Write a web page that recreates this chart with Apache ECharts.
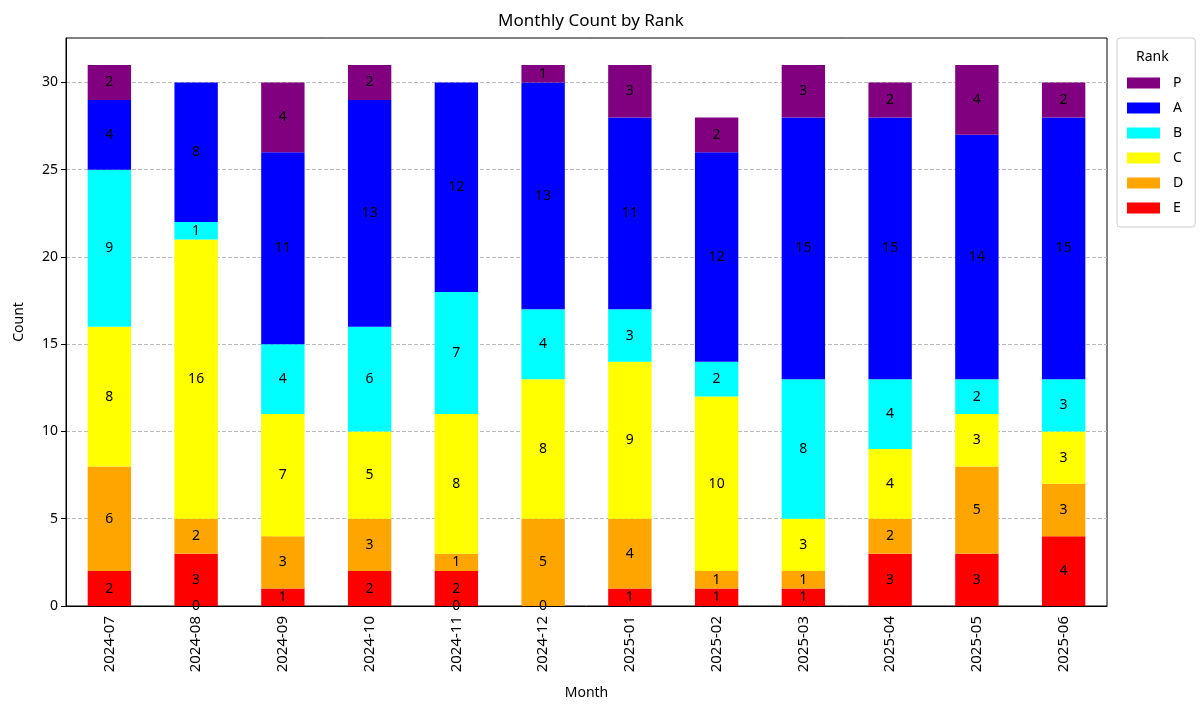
<!DOCTYPE html>
<html>
<head>
<meta charset="utf-8">
<script src="https://cdn.jsdelivr.net/npm/echarts@6/dist/echarts.min.js"></script>
<style>
	html,body{margin:0;padding:0;background:#fff;}
	#chart{width:1200px;height:715px;}
</style>
</head>
<body>
<div id="chart"></div>
<script>
var months = ['2024-07','2024-08','2024-09','2024-10','2024-11','2024-12','2025-01','2025-02','2025-03','2025-04','2025-05','2025-06'];
var rankE = [2,3,1,2,2,0,1,1,1,3,3,4];
var rankD = [6,2,3,3,1,5,4,1,1,2,5,3];
var rankC = [8,16,7,5,8,8,9,10,3,4,3,3];
var rankB = [9,1,4,6,7,4,3,2,8,4,2,3];
var rankA = [4,8,11,13,12,13,11,12,15,15,14,15];
var rankP = [2,0,4,2,0,1,3,2,3,2,4,2];
// zero-count P labels sit on the baseline in the original
var zeroP = rankP.map(function(v){ return v === 0 ? 0 : null; });

var font = 'Noto Sans';

function bar(name, data, color, hideZero){
	return {
		name: name,
		type: 'bar',
		stack: 'rank',
		barWidth: '50%',
		data: data,
		itemStyle: {color: color},
		label: {
			show: true,
			position: 'inside',
			color: '#000',
			fontSize: 14,
			fontFamily: font,
			formatter: function(p){ return (hideZero && p.value === 0) ? '' : p.value; }
		}
	};
}

var chart = echarts.init(document.getElementById('chart'));

chart.setOption({
	animation: false,
	textStyle: {fontFamily: font},
	title: {
		text: 'Monthly Count by Rank',
		left: 586,
		textAlign: 'center',
		top: 8,
		textStyle: {fontSize: 17, fontWeight: 'normal', color: '#000', fontFamily: font}
	},
	graphic: [{
		type: 'text',
		left: 1136,
		top: 50,
		style: {text: 'Rank', fontSize: 14, fontFamily: font, fill: '#000'}
	}],
	legend: {
		orient: 'vertical',
		left: 1117,
		top: 38,
		padding: [38, 12, 12, 10],
		itemWidth: 33,
		itemHeight: 11,
		itemGap: 11,
		borderColor: '#ccc',
		borderWidth: 1,
		borderRadius: 3,
		icon: 'rect',
		data: ['P','A','B','C','D','E'],
		textStyle: {fontSize: 14, fontFamily: font, color: '#000', padding: [0, 0, 0, 8]}
	},
	grid: {
		left: 66,
		right: 93,
		top: 38,
		bottom: 109,
		show: true,
		borderColor: '#000',
		borderWidth: 1
	},
	xAxis: {
		type: 'category',
		data: months,
		name: 'Month',
		nameLocation: 'middle',
		nameGap: 80,
		nameTextStyle: {fontSize: 14, color: '#000', fontFamily: font},
		axisLine: {lineStyle: {color: '#000'}},
		axisTick: {alignWithLabel: true, length: 5, lineStyle: {color: '#000'}},
		axisLabel: {rotate: 90, fontSize: 15, color: '#000', fontFamily: font, margin: 10}
	},
	yAxis: {
		type: 'value',
		min: 0,
		max: 32.55,
		interval: 5,
		name: 'Count',
		nameLocation: 'middle',
		nameGap: 40,
		nameTextStyle: {fontSize: 14, color: '#000', fontFamily: font},
		axisLine: {show: true, lineStyle: {color: '#000'}},
		axisTick: {show: true, length: 5, lineStyle: {color: '#000'}},
		axisLabel: {fontSize: 14, color: '#000', fontFamily: font, showMaxLabel: false},
		splitLine: {showMaxLine: false, showMinLine: false, lineStyle: {type: 'dashed', color: '#bbb'}}
	},
	series: [
		bar('zero', zeroP, '#800080', false),
		bar('E', rankE, '#ff0000', false),
		bar('D', rankD, '#ffa500', false),
		bar('C', rankC, '#ffff00', false),
		bar('B', rankB, '#00ffff', false),
		bar('A', rankA, '#0000ff', false),
		bar('P', rankP, '#800080', true)
	]
});
</script>
</body>
</html>
